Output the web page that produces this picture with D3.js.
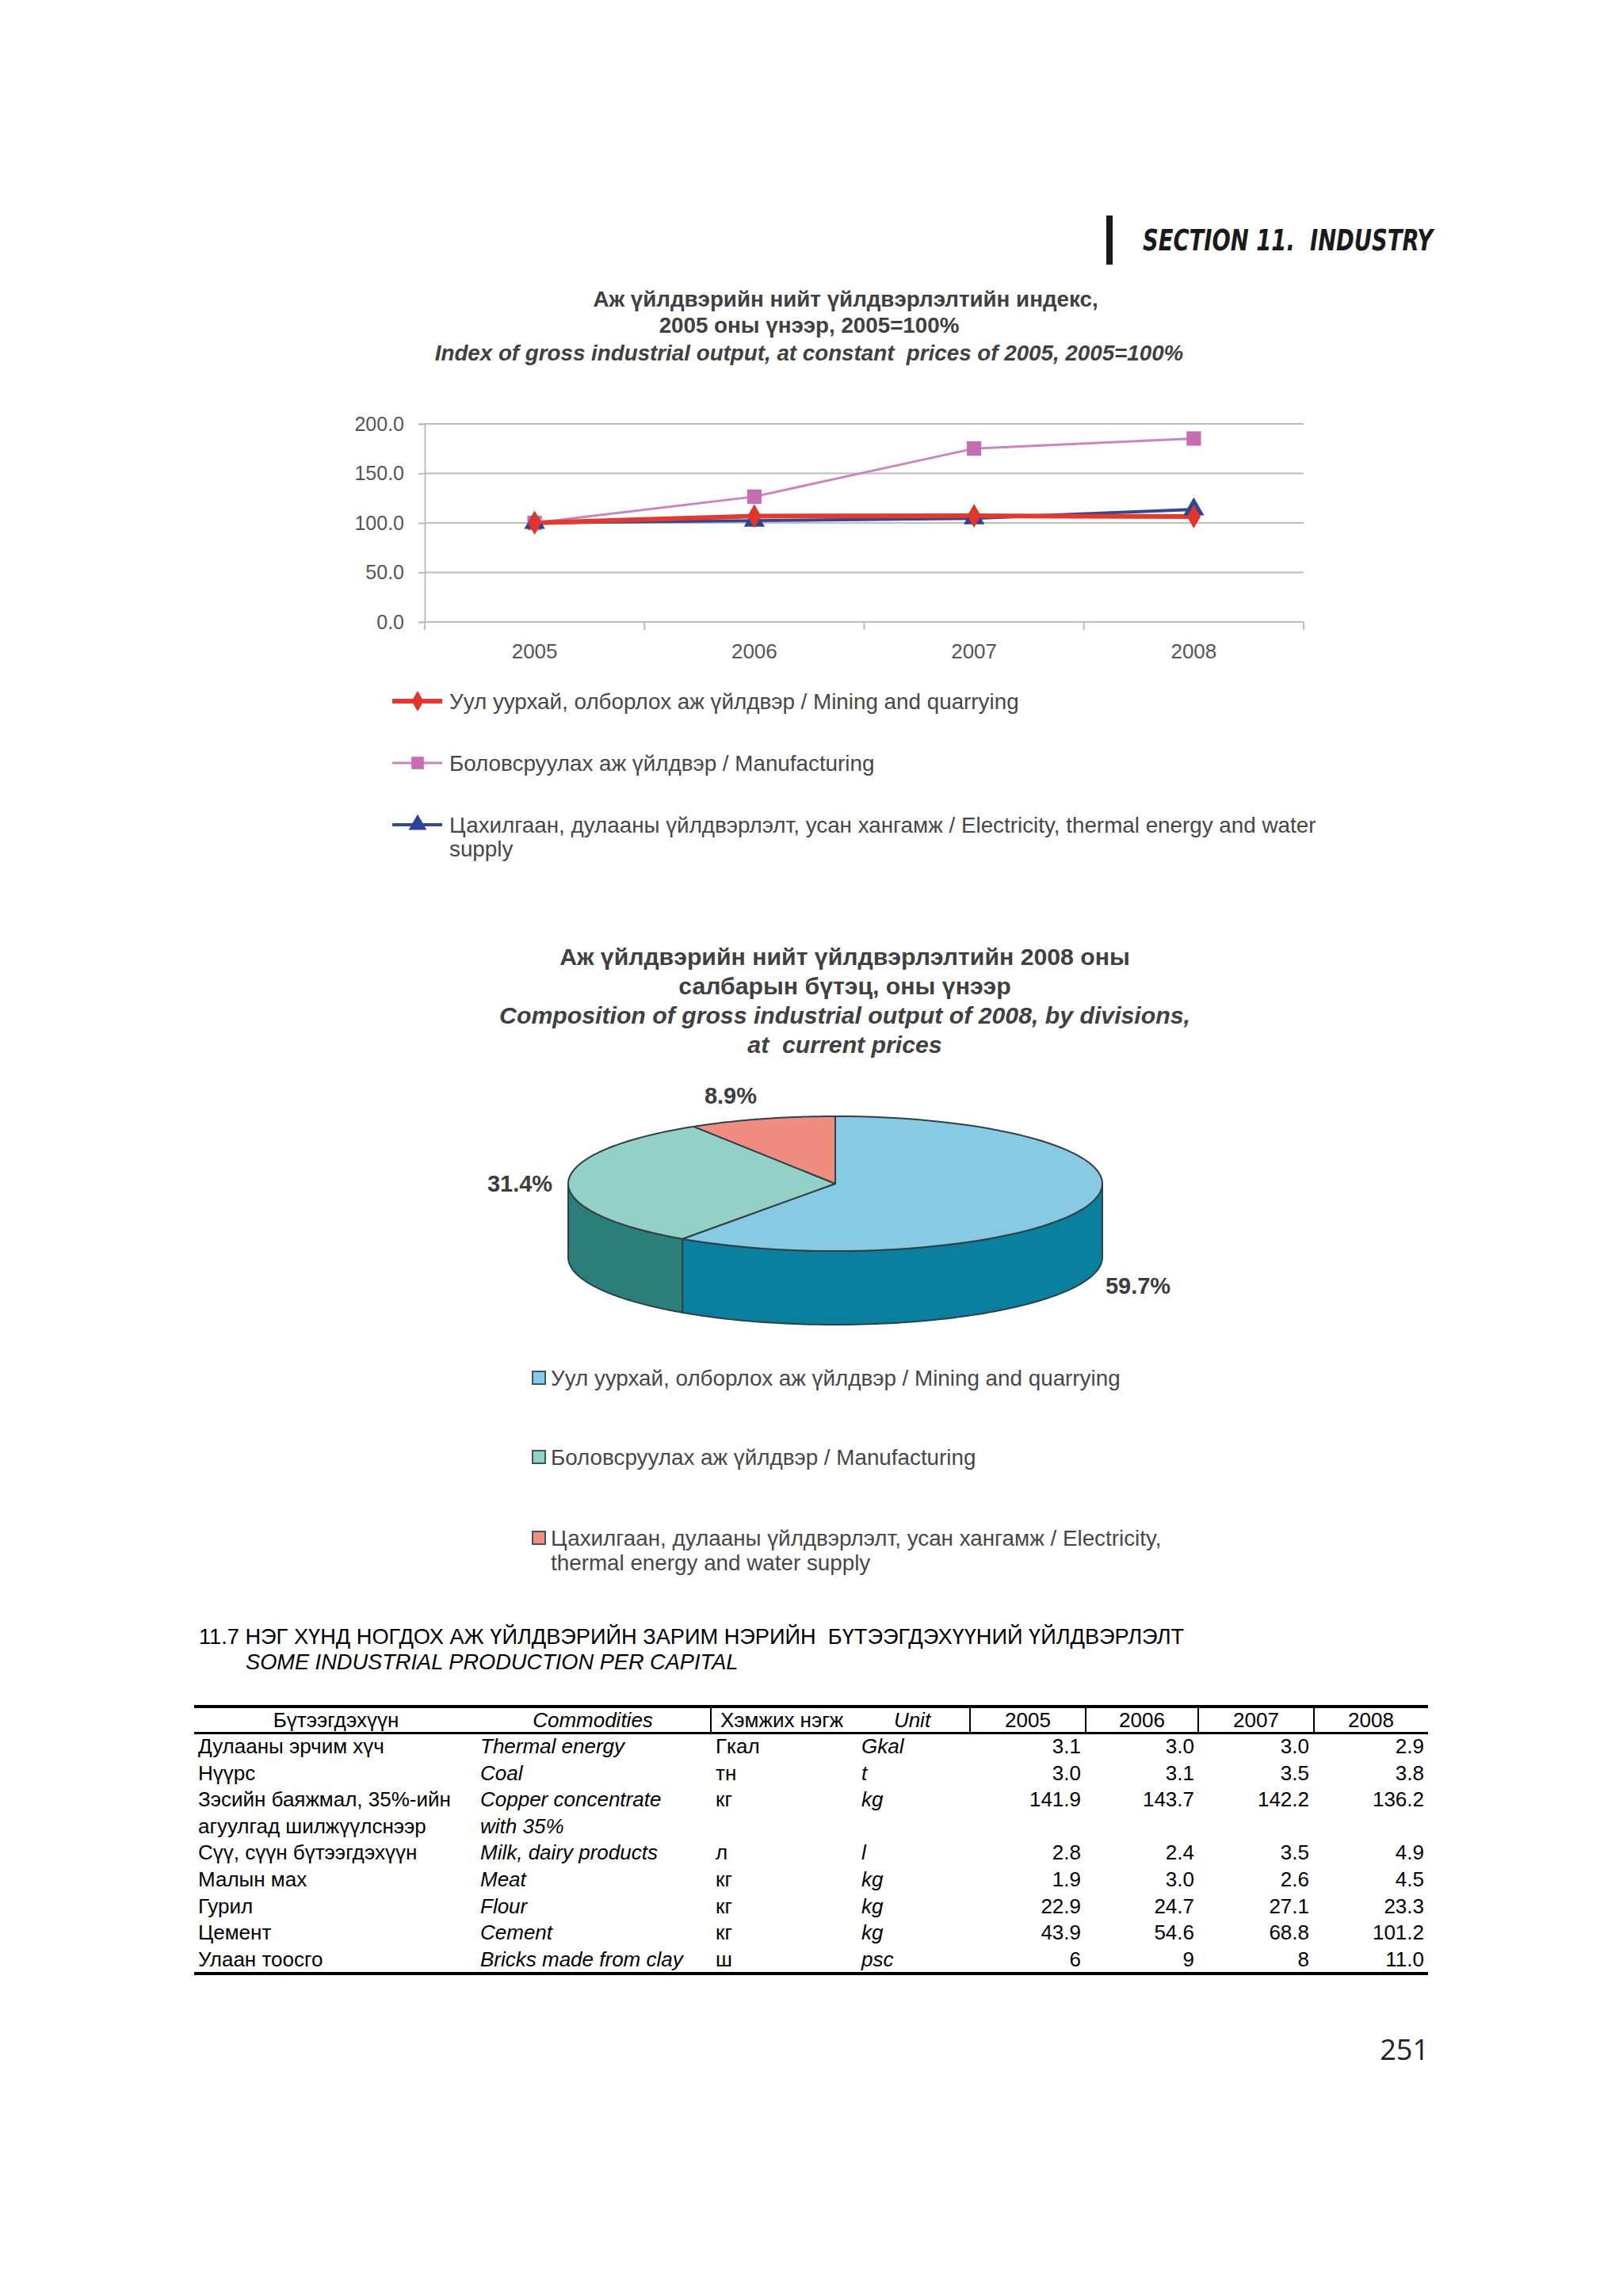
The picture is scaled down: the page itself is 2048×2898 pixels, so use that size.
<!DOCTYPE html>
<html><head><meta charset="utf-8">
<script src="https://cdn.jsdelivr.net/npm/d3@7"></script>
<style>body{margin:0;background:#fff}svg{display:block}text{white-space:pre}</style>
</head><body><svg id="page" width="2048" height="2898"></svg>
<script>
// ---------------- DATA ----------------
const sectionTitle = "SECTION 11.  INDUSTRY";
const pageNumber = "251";

const lineTitle = ["Аж үйлдвэрийн нийт үйлдвэрлэлтийн индекс,", "2005 оны үнээр, 2005=100%", "Index of gross industrial output, at constant  prices of 2005, 2005=100%"];
const years = ["2005", "2006", "2007", "2008"];
const miningIndex = [100, 106.9, 107.2, 106.4];
const manufacturingIndex = [100, 126.5, 175.1, 185.2];
const electricityIndex = [100, 102.3, 104.6, 113.6];
const yTickValues = [0, 50, 100, 150, 200];
const lineLegend = [
  ["Уул уурхай, олборлох аж үйлдвэр / Mining and quarrying"],
  ["Боловсруулах аж үйлдвэр / Manufacturing"],
  ["Цахилгаан, дулааны үйлдвэрлэлт, усан хангамж / Electricity, thermal energy and water", "supply"]
];

const pieTitle = ["Аж үйлдвэрийн нийт үйлдвэрлэлтийн 2008 оны", "салбарын бүтэц, оны үнээр", "Composition of gross industrial output of 2008, by divisions,", "at  current prices"];
const pieShares = [59.7, 31.4, 8.9];
const pieLabels = ["59.7%", "31.4%", "8.9%"];
const pieLegend = [
  ["Уул уурхай, олборлох аж үйлдвэр / Mining and quarrying"],
  ["Боловсруулах аж үйлдвэр / Manufacturing"],
  ["Цахилгаан, дулааны үйлдвэрлэлт, усан хангамж / Electricity,", "thermal energy and water supply"]
];

const tableTitle = ["11.7 НЭГ ХҮНД НОГДОХ АЖ ҮЙЛДВЭРИЙН ЗАРИМ НЭРИЙН  БҮТЭЭГДЭХҮҮНИЙ ҮЙЛДВЭРЛЭЛТ", "SOME INDUSTRIAL PRODUCTION PER CAPITAL"];
const tableHeader = ["Бүтээгдэхүүн", "Commodities", "Хэмжих нэгж", "Unit", "2005", "2006", "2007", "2008"];
const productsMn = ["Дулааны эрчим хүч", "Нүүрс", ["Зэсийн баяжмал, 35%-ийн", "агуулгад шилжүүлснээр"], "Сүү, сүүн бүтээгдэхүүн", "Малын мах", "Гурил", "Цемент", "Улаан тоосго"];
const productsEn = ["Thermal energy", "Coal", ["Copper concentrate", "with 35%"], "Milk, dairy products", "Meat", "Flour", "Cement", "Bricks made from clay"];
const unitsMn = ["Гкал", "тн", "кг", "л", "кг", "кг", "кг", "ш"];
const unitsEn = ["Gkal", "t", "kg", "l", "kg", "kg", "kg", "psc"];
const values2005 = ["3.1", "3.0", "141.9", "2.8", "1.9", "22.9", "43.9", "6"];
const values2006 = ["3.0", "3.1", "143.7", "2.4", "3.0", "24.7", "54.6", "9"];
const values2007 = ["3.0", "3.5", "142.2", "3.5", "2.6", "27.1", "68.8", "8"];
const values2008 = ["2.9", "3.8", "136.2", "4.9", "4.5", "23.3", "101.2", "11.0"];

// ---------------- SETUP ----------------
const FONT = "'Liberation Sans', Arial, sans-serif";
const svg = d3.select("#page");
svg.append("rect").attr("width", 2048).attr("height", 2898).attr("fill", "#fff");

function measure(str, size, weight, style) {
  const t = svg.append("text").attr("font-family", FONT).attr("font-size", size)
    .attr("font-weight", weight).attr("font-style", style).text(str);
  const w = t.node().getComputedTextLength(); t.remove(); return w;
}
function fitSize(str, target, weight = "normal", style = "normal") {
  return 30 * target / measure(str, 30, weight, style);
}
function txt(g, str, x, y, o = {}) {
  return g.append("text").attr("x", x).attr("y", y).attr("dy", o.dy ?? "0.35em")
    .attr("font-family", o.family || FONT).attr("font-size", o.size || 26)
    .attr("font-weight", o.weight || "normal").attr("font-style", o.style || "normal")
    .attr("text-anchor", o.anchor || "start").attr("fill", o.fill || "#000").text(str);
}

// ---------------- SECTION HEADER ----------------
svg.append("rect").attr("x", 1396).attr("y", 272).attr("width", 8).attr("height", 62).attr("fill", "#1a1a1a");
txt(svg, sectionTitle, 1442, 316, {dy: 0, size: 37, weight: "bold", style: "italic",
  family: "'DejaVu Sans', sans-serif", fill: "#1a1a1a"})
  .attr("textLength", 366).attr("lengthAdjust", "spacingAndGlyphs");

// ---------------- LINE CHART ----------------
const lc = svg.append("g");
const ltSize = fitSize(lineTitle[2], 945, "bold", "italic");
const ltY = [377, 410, 445], ltX = [1067, 1021, 1021];
lineTitle.forEach((s, i) => txt(lc, s, ltX[i], ltY[i], {size: ltSize, weight: "bold",
  style: i === 2 ? "italic" : "normal", anchor: "middle", fill: "#404040"}));

const x = d3.scaleBand().domain(years).range([536, 1645]);
const y = d3.scaleLinear().domain([0, 200]).range([785, 535]);

// gridlines
lc.selectAll(".grid").data(yTickValues).join("line")
  .attr("x1", x.range()[0]).attr("x2", x.range()[1])
  .attr("y1", d => y(d)).attr("y2", d => y(d))
  .attr("stroke", "#bdbdbd").attr("stroke-width", 2);

// y axis
const yAxis = lc.append("g").attr("transform", `translate(${x.range()[0]},0)`)
  .call(d3.axisLeft(y).tickValues(yTickValues).tickFormat(d3.format(".1f")).tickSize(8).tickPadding(18));
yAxis.select(".domain").attr("stroke", "#bdbdbd").attr("stroke-width", 2);
yAxis.selectAll(".tick line").attr("stroke", "#bdbdbd").attr("stroke-width", 2);
yAxis.selectAll(".tick text").attr("font-family", FONT).attr("font-size", 25).attr("fill", "#555");

// x axis boundary ticks and labels
const bounds = years.map(d => x(d)).concat([x.range()[1]]);
lc.selectAll(".xt").data(bounds).join("line")
  .attr("x1", d => d).attr("x2", d => d).attr("y1", y(0)).attr("y2", y(0) + 10)
  .attr("stroke", "#bdbdbd").attr("stroke-width", 2);
years.forEach(yr => txt(lc, yr, x(yr) + x.bandwidth() / 2, 822, {size: 26, anchor: "middle", fill: "#555"}));

const series = [
  {vals: manufacturingIndex, color: "#c86db3", lineColor: "#cc84bd", width: 3, sym: d3.symbolSquare, size: 330},
  {vals: electricityIndex, color: "#2c4593", lineColor: "#34488f", width: 4, sym: d3.symbolTriangle, size: 300},
  {vals: miningIndex, color: "#e0352b", lineColor: "#e23a2e", width: 6, sym: d3.symbolDiamond, size: 260}
];
const cxYear = yr => x(yr) + x.bandwidth() / 2;
const lineGen = d3.line().x((d, i) => cxYear(years[i])).y(d => y(d));
series.forEach(s => {
  lc.append("path").attr("d", lineGen(s.vals)).attr("fill", "none")
    .attr("stroke", s.lineColor).attr("stroke-width", s.width);
});
series.forEach(s => {
  lc.selectAll(null).data(s.vals).join("path")
    .attr("transform", (d, i) => `translate(${cxYear(years[i])},${y(d)})`)
    .attr("d", d3.symbol().type(s.sym).size(s.size)).attr("fill", s.color);
});

// line legend
const legSize = fitSize(lineLegend[0][0], 719);
const legOrder = [series[2], series[0], series[1]];
const legY = [[885], [963], [1041, 1071]];
lineLegend.forEach((lines, i) => {
  const s = legOrder[i];
  lc.append("line").attr("x1", 495).attr("x2", 558).attr("y1", legY[i][0]).attr("y2", legY[i][0])
    .attr("stroke", s.lineColor).attr("stroke-width", s.width);
  lc.append("path").attr("transform", `translate(527,${legY[i][0]})`)
    .attr("d", d3.symbol().type(s.sym).size(s.size * 0.75)).attr("fill", s.color);
  lines.forEach((l, j) => txt(lc, l, 567, legY[i][j], {size: legSize, fill: "#474747"}));
});

// ---------------- PIE CHART ----------------
const pc = svg.append("g");
const ptSize = fitSize(pieTitle[2], 872, "bold", "italic");
const ptY = [1207, 1244, 1281, 1318];
pieTitle.forEach((s, i) => txt(pc, s, 1066, ptY[i], {size: ptSize, weight: "bold",
  style: i >= 2 ? "italic" : "normal", anchor: "middle", fill: "#404040"}));

const pcx = 1054, pcy = 1494, rx = 337, ry = 85, depth = 93;
const topColors = ["#88cae4", "#93d1c6", "#ef8d80"];
const sideColors = ["#0a7f9e", "#2b7f78", "#c0605a"];
const arcs = d3.pie().sort(null).value(d => d)(pieShares);
const P = (a, dy = 0) => [pcx + rx * Math.sin(a), pcy - ry * Math.cos(a) + dy];
const sample = (a0, a1, n = 80) => d3.range(n + 1).map(k => a0 + (a1 - a0) * k / n);
const poly = d3.line();

// sides (front half only: angles between PI/2 and 3PI/2)
arcs.forEach((a, i) => {
  const s = Math.max(a.startAngle, Math.PI / 2), e = Math.min(a.endAngle, 3 * Math.PI / 2);
  if (s >= e) return;
  const top = sample(s, e).map(t => P(t));
  const bot = sample(s, e).reverse().map(t => P(t, depth));
  pc.append("path").attr("d", poly(top.concat(bot)) + "Z")
    .attr("fill", sideColors[i]).attr("stroke", "#2e4148").attr("stroke-width", 2);
});
// tops
arcs.forEach((a, i) => {
  const pts = [[pcx, pcy]].concat(sample(a.startAngle, a.endAngle).map(t => P(t)));
  pc.append("path").attr("d", poly(pts) + "Z")
    .attr("fill", topColors[i]).attr("stroke", "#2e4148").attr("stroke-width", 2)
    .attr("stroke-linejoin", "round");
});
const labelPos = [[1436, 1623], [656, 1494], [922, 1383]];
pieLabels.forEach((l, i) => txt(pc, l, labelPos[i][0], labelPos[i][1],
  {size: 29, weight: "bold", anchor: "middle", fill: "#3d3d3d"}));

// pie legend
const pLegY = [[1739], [1839], [1941, 1972]];
pieLegend.forEach((lines, i) => {
  pc.append("rect").attr("x", 672).attr("y", pLegY[i][0] - 8).attr("width", 16).attr("height", 16)
    .attr("fill", topColors[i]).attr("stroke", "#3d5560").attr("stroke-width", 2);
  lines.forEach((l, j) => txt(pc, l, 695, pLegY[i][j], {size: legSize, fill: "#474747"}));
});

// ---------------- TABLE ----------------
const tb = svg.append("g");
const ttSize = fitSize(tableTitle[0], 1244);
txt(tb, tableTitle[0], 251, 2075, {dy: 0, size: ttSize});
txt(tb, tableTitle[1], 310, 2107, {dy: 0, size: ttSize, style: "italic"});

const tLeft = 245, tRight = 1802;
tb.append("rect").attr("x", tLeft).attr("y", 2152).attr("width", tRight - tLeft).attr("height", 4).attr("fill", "#000");
tb.append("rect").attr("x", tLeft).attr("y", 2186).attr("width", tRight - tLeft).attr("height", 3).attr("fill", "#000");
tb.append("rect").attr("x", tLeft).attr("y", 2489).attr("width", tRight - tLeft).attr("height", 4).attr("fill", "#000");
const vLines = [897, 1224, 1370, 1512, 1658];
tb.selectAll(".vl").data(vLines).join("line").attr("x1", d => d).attr("x2", d => d)
  .attr("y1", 2154).attr("y2", 2188).attr("stroke", "#000").attr("stroke-width", 2);

const hdrY = 2180;
const yearCenters = [1297, 1441, 1585, 1730];
txt(tb, tableHeader[0], 424, hdrY, {dy: 0, anchor: "middle"});
txt(tb, tableHeader[1], 748, hdrY, {dy: 0, anchor: "middle", style: "italic"});
txt(tb, tableHeader[2], 909, hdrY, {dy: 0});
txt(tb, tableHeader[3], 1151, hdrY, {dy: 0, anchor: "middle", style: "italic"});
yearCenters.forEach((cx, i) => txt(tb, tableHeader[4 + i], cx, hdrY, {dy: 0, anchor: "middle"}));

const rowY = d3.scaleLinear().domain([0, 1]).range([2213, 2246.6]);
const valueCols = [values2005, values2006, values2007, values2008];
const valueRight = [1364, 1507, 1652, 1797];
let line = 0;
productsMn.forEach((p, r) => {
  const yy = rowY(line);
  const mn = Array.isArray(p) ? p : [p];
  const en = Array.isArray(productsEn[r]) ? productsEn[r] : [productsEn[r]];
  mn.forEach((s, j) => txt(tb, s, 250, rowY(line + j), {dy: 0}));
  en.forEach((s, j) => txt(tb, s, 606, rowY(line + j), {dy: 0, style: "italic"}));
  txt(tb, unitsMn[r], 903, yy, {dy: 0});
  txt(tb, unitsEn[r], 1087, yy, {dy: 0, style: "italic"});
  valueCols.forEach((col, c) => txt(tb, col[r], valueRight[c], yy, {dy: 0, anchor: "end"}));
  line += mn.length;
});

// ---------------- PAGE NUMBER ----------------
txt(svg, pageNumber, 1803, 2600, {dy: 0, size: 36, anchor: "end", family: "'Open Sans', 'Noto Sans', sans-serif", fill: "#222"});
</script></body></html>
